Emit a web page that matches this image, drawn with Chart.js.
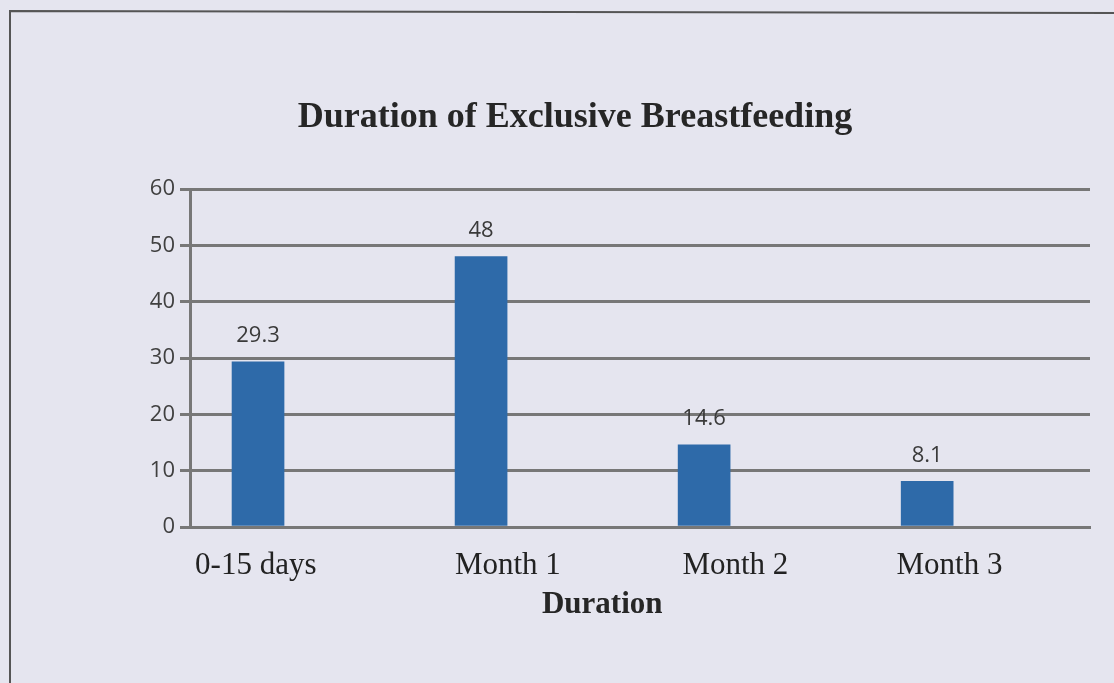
<!DOCTYPE html>
<html>
<head>
<meta charset="utf-8">
<script src="https://cdn.jsdelivr.net/npm/chart.js@4"></script>
<style>
  html, body { margin: 0; padding: 0; background: #e5e5ef; }
  #wrap { width: 1114px; height: 683px; }
</style>
</head>
<body>
<div id="wrap"><canvas id="myChart"></canvas></div>
<script>
const categories = ['0-15 days', 'Month 1', 'Month 2', 'Month 3'];
const percentages = [29.3, 48, 14.6, 8.1];
const yTicks = [0, 10, 20, 30, 40, 50, 60];
const chartTitle = 'Duration of Exclusive Breastfeeding';
const xTitle = 'Duration';

// small nudge so the serif labels sit where the printed ones do
const labelNudge = [-0.01, 0.12, 0.14, 0.1];

const ctx = document.querySelector('#myChart');

// page background + the photographed frame
const paper = {
  id: 'paper',
  beforeDraw(chart) {
    const c = chart.ctx;
    c.save();
    c.fillStyle = '#e5e5ef';
    c.fillRect(0, 0, chart.width, chart.height);
    c.strokeStyle = '#555';
    c.lineWidth = 2;
    c.beginPath();
    c.moveTo(10, chart.height);
    c.lineTo(10, 11);
    c.lineTo(chart.width, 13);
    c.stroke();
    c.restore();
  }
};

// value labels over the bars, chart title and x axis title
const labels = {
  id: 'labels',
  afterDatasetsDraw(chart) {
    const c = chart.ctx;
    const meta = chart.getDatasetMeta(0);
    c.save();
    c.font = '22px "Open Sans"';
    c.fillStyle = '#3a3a3a';
    c.textAlign = 'center';
    c.textBaseline = 'bottom';
    meta.data.forEach((bar, i) => {
      c.fillText(String(percentages[i]), bar.x, bar.y - 15);
    });
    const area = chart.chartArea;
    c.fillStyle = '#262626';
    c.textBaseline = 'middle';
    c.font = 'bold 36px "Liberation Serif"';
    c.fillText(chartTitle, 575, 118);
    c.font = 'bold 31px "Liberation Serif"';
    c.fillText(xTitle, area.left + (area.right - area.left) * 0.458, 605);
    c.restore();
  }
};

new Chart(ctx, {
  type: 'bar',
  data: {
    datasets: [{
      label: 'Exclusive breastfeeding (%)',
      data: percentages.map((v, i) => ({ x: i, y: v })),
      backgroundColor: '#2e6aa9',
      barThickness: 52
    }]
  },
  plugins: [paper, labels],
  options: {
    responsive: true,
    maintainAspectRatio: false,
    animation: false,
    layout: { padding: { left: 0, right: 24, top: 189, bottom: 0 } },
    plugins: {
      legend: { display: false },
      tooltip: { enabled: false }
    },
    scales: {
      x: {
        type: 'linear',
        offset: false,
        min: -0.305,
        max: 3.73,
        afterFit: (scale) => { scale.height = 156; },
        grid: { display: false, drawTicks: false, offset: false },
        border: { display: true, color: '#777', width: 3 },
        afterBuildTicks: (scale) => {
          scale.ticks = categories.map((c, i) => ({ value: i + labelNudge[i] }));
        },
        ticks: {
          autoSkip: false,
          maxRotation: 0,
          padding: 20,
          color: '#222',
          font: { family: 'Liberation Serif', size: 31 },
          callback: (value, index) => categories[index]
        }
      },
      y: {
        min: yTicks[0],
        max: yTicks[yTicks.length - 1],
        afterFit: (scale) => { scale.width = 190; },
        grid: { color: '#777', lineWidth: 3, tickLength: 10 },
        border: { color: '#777', width: 3 },
        ticks: {
          stepSize: 10,
          padding: 5,
          color: '#404040',
          font: { family: 'Open Sans', size: 22 }
        }
      }
    }
  }
});
</script>
</body>
</html>
